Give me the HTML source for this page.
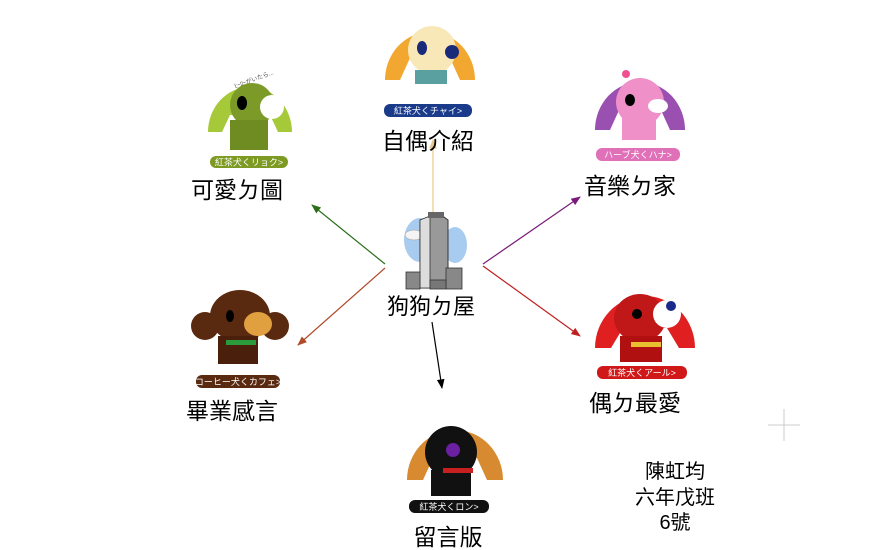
<!DOCTYPE html>
<html><head><meta charset="utf-8"><style>
html,body{margin:0;padding:0;background:#fff;width:886px;height:550px;overflow:hidden}
svg text{font-family:"Liberation Sans","Noto Sans CJK TC","WenQuanYi Zen Hei",sans-serif}
</style></head><body>
<svg width="886" height="550" viewBox="0 0 886 550" xmlns="http://www.w3.org/2000/svg">
<defs>
<marker id="ag" viewBox="0 0 10 10" refX="9" refY="5" markerWidth="8" markerHeight="8" orient="auto"><path d="M0,1 L10,5 L0,9 z" fill="#2c6e1a"/></marker>
<marker id="at" viewBox="0 0 10 10" refX="9" refY="5" markerWidth="8" markerHeight="8" orient="auto"><path d="M0,1 L10,5 L0,9 z" fill="#e8c88a"/></marker>
<marker id="ap" viewBox="0 0 10 10" refX="9" refY="5" markerWidth="8" markerHeight="8" orient="auto"><path d="M0,1 L10,5 L0,9 z" fill="#7a1a7a"/></marker>
<marker id="ab" viewBox="0 0 10 10" refX="9" refY="5" markerWidth="8" markerHeight="8" orient="auto"><path d="M0,1 L10,5 L0,9 z" fill="#b04a2a"/></marker>
<marker id="ar" viewBox="0 0 10 10" refX="9" refY="5" markerWidth="8" markerHeight="8" orient="auto"><path d="M0,1 L10,5 L0,9 z" fill="#c02020"/></marker>
<marker id="ak" viewBox="0 0 10 10" refX="9" refY="5" markerWidth="8" markerHeight="8" orient="auto"><path d="M0,1 L10,5 L0,9 z" fill="#000"/></marker>
</defs>
<line x1="433" y1="212" x2="433" y2="140" stroke="#e8c88a" stroke-width="1.2" marker-end="url(#at)"/>
<line x1="385" y1="264" x2="312" y2="205" stroke="#2c6e1a" stroke-width="1.2" marker-end="url(#ag)"/>
<line x1="483" y1="264" x2="580" y2="197" stroke="#7a1a7a" stroke-width="1.2" marker-end="url(#ap)"/>
<line x1="385" y1="268" x2="298" y2="345" stroke="#b04a2a" stroke-width="1.2" marker-end="url(#ab)"/>
<line x1="483" y1="266" x2="580" y2="336" stroke="#c02020" stroke-width="1.2" marker-end="url(#ar)"/>
<line x1="432" y1="322" x2="442" y2="388" stroke="#000" stroke-width="1.2" marker-end="url(#ak)"/>
<g>
<ellipse cx="420" cy="240" rx="16" ry="22" fill="#a8ccf0"/>
<ellipse cx="455" cy="245" rx="12" ry="18" fill="#a8ccf0"/>
<ellipse cx="414" cy="235" rx="9" ry="5" fill="#f4f4f4" stroke="#999" stroke-width=".5"/>
<polygon points="420,220 440,214 448,220 448,288 420,288" fill="#999" stroke="#333" stroke-width="1"/>
<polygon points="420,220 430,216 430,288 420,288" fill="#ddd" stroke="#333" stroke-width=".8"/>
<rect x="428" y="212" width="16" height="6" fill="#666"/>
<rect x="406" y="272" width="14" height="17" fill="#888" stroke="#333" stroke-width=".8"/>
<rect x="446" y="268" width="16" height="21" fill="#888" stroke="#333" stroke-width=".8"/>
<rect x="430" y="280" width="16" height="9" fill="#777" stroke="#333" stroke-width=".8"/>
</g>
<text x="431" y="314" font-size="22" text-anchor="middle">狗狗ㄉ屋</text>

<g transform="translate(250,70)">
<text x="-20" y="12" font-size="6" fill="#555" transform="rotate(-20)">ﾋｰﾛｰがいたら...</text>
<path d="M-42,62 A42,45 0 0 1 42,62 L28,62 L20,45 L-20,45 L-28,62 Z" fill="#a6c93a"/>
<ellipse cx="2" cy="35" rx="22" ry="22" fill="#7c9a28"/>
<rect x="-20" y="50" width="38" height="30" fill="#6f8c22"/>
<ellipse cx="-8" cy="33" rx="5" ry="7" fill="#000"/>
<ellipse cx="22" cy="37" rx="12" ry="12" fill="#fff"/>
<rect x="-40" y="86" width="78" height="12" rx="6" fill="#7d9a22"/>
<text x="-1" y="95.5" font-size="9" fill="#fff" text-anchor="middle">紅茶犬くリョク&gt;</text>
</g>
<text x="237" y="198" font-size="23" text-anchor="middle">可愛ㄉ圖</text>

<g transform="translate(430,18)">
<path d="M-45,62 A45,48 0 0 1 45,62 L30,62 L20,40 L-20,40 L-30,62 Z" fill="#f2a830"/>
<ellipse cx="2" cy="32" rx="24" ry="24" fill="#f8e8b8"/>
<ellipse cx="-8" cy="30" rx="5" ry="7" fill="#1a2a7a"/>
<ellipse cx="22" cy="34" rx="7" ry="7" fill="#1a2a7a"/>
<rect x="-15" y="52" width="32" height="14" fill="#5aa0a0"/>
<rect x="-46" y="86" width="88" height="13" rx="6" fill="#1a3a8a"/>
<text x="-2" y="96" font-size="9" fill="#fff" text-anchor="middle">紅茶犬くチャイ&gt;</text>
</g>
<text x="428" y="149" font-size="23" text-anchor="middle">自偶介紹</text>

<g transform="translate(640,66)">
<path d="M-45,64 A45,48 0 0 1 45,64 L30,64 L20,42 L-20,42 L-30,64 Z" fill="#9a50b0"/>
<ellipse cx="0" cy="36" rx="24" ry="24" fill="#f090c8"/>
<rect x="-18" y="52" width="34" height="22" fill="#f090c8"/>
<ellipse cx="-10" cy="34" rx="5" ry="6" fill="#000"/>
<ellipse cx="18" cy="40" rx="10" ry="7" fill="#fff"/>
<circle cx="-14" cy="8" r="4" fill="#f05090"/>
<rect x="-44" y="82" width="84" height="13" rx="6" fill="#e070b8"/>
<text x="-2" y="92" font-size="9" fill="#fff" text-anchor="middle">ハーブ犬くハナ&gt;</text>
</g>
<text x="630" y="194" font-size="23" text-anchor="middle">音樂ㄉ家</text>

<g transform="translate(240,286)">
<circle cx="-35" cy="40" r="14" fill="#5a2a10"/>
<circle cx="35" cy="40" r="14" fill="#5a2a10"/>
<ellipse cx="0" cy="30" rx="30" ry="26" fill="#5a2a10"/>
<rect x="-22" y="50" width="40" height="28" fill="#4a200c"/>
<ellipse cx="18" cy="38" rx="14" ry="12" fill="#e0a040"/>
<ellipse cx="-10" cy="30" rx="4" ry="6" fill="#000"/>
<rect x="-14" y="54" width="30" height="5" fill="#2a9a3a"/>
<rect x="-44" y="89" width="84" height="13" rx="6" fill="#5a2a10"/>
<text x="-2" y="99" font-size="9" fill="#fff" text-anchor="middle">コーヒー犬くカフェ&gt;</text>
</g>
<text x="232" y="419" font-size="23" text-anchor="middle">畢業感言</text>

<g transform="translate(645,286)">
<path d="M-50,62 A50,52 0 0 1 50,62 L34,62 L22,42 L-22,42 L-34,62 Z" fill="#e02020"/>
<ellipse cx="-5" cy="32" rx="26" ry="24" fill="#c01818"/>
<rect x="-25" y="50" width="42" height="26" fill="#b01010"/>
<ellipse cx="22" cy="28" rx="14" ry="14" fill="#fff"/>
<circle cx="26" cy="20" r="5" fill="#1a2a8a"/>
<circle cx="-8" cy="28" r="5" fill="#000"/>
<rect x="-14" y="56" width="30" height="5" fill="#e8c030"/>
<rect x="-48" y="80" width="90" height="13" rx="6" fill="#d01818"/>
<text x="-3" y="90" font-size="9" fill="#fff" text-anchor="middle">紅茶犬くアール&gt;</text>
</g>
<text x="635" y="411" font-size="23" text-anchor="middle">偶ㄉ最愛</text>

<g transform="translate(455,416)">
<path d="M-48,64 A48,50 0 0 1 48,64 L32,64 L22,42 L-22,42 L-32,64 Z" fill="#d88a30"/>
<ellipse cx="-4" cy="36" rx="26" ry="26" fill="#111"/>
<rect x="-24" y="54" width="40" height="26" fill="#111"/>
<circle cx="-2" cy="34" r="7" fill="#6a20a0"/>
<rect x="-12" y="52" width="30" height="5" fill="#c82020"/>
<rect x="-46" y="84" width="80" height="13" rx="6" fill="#111"/>
<text x="-6" y="94" font-size="9" fill="#fff" text-anchor="middle">紅茶犬くロン&gt;</text>
</g>
<text x="448" y="545" font-size="23" text-anchor="middle">留言版</text>

<text x="675" y="478" font-size="20" text-anchor="middle">陳虹均</text>
<text x="675" y="504" font-size="20" text-anchor="middle">六年戊班</text>
<text x="675" y="529" font-size="20" text-anchor="middle">6號</text>

<line x1="768" y1="425" x2="800" y2="425" stroke="#ccc"/>
<line x1="784" y1="409" x2="784" y2="441" stroke="#ccc"/>
</svg>
</body></html>
